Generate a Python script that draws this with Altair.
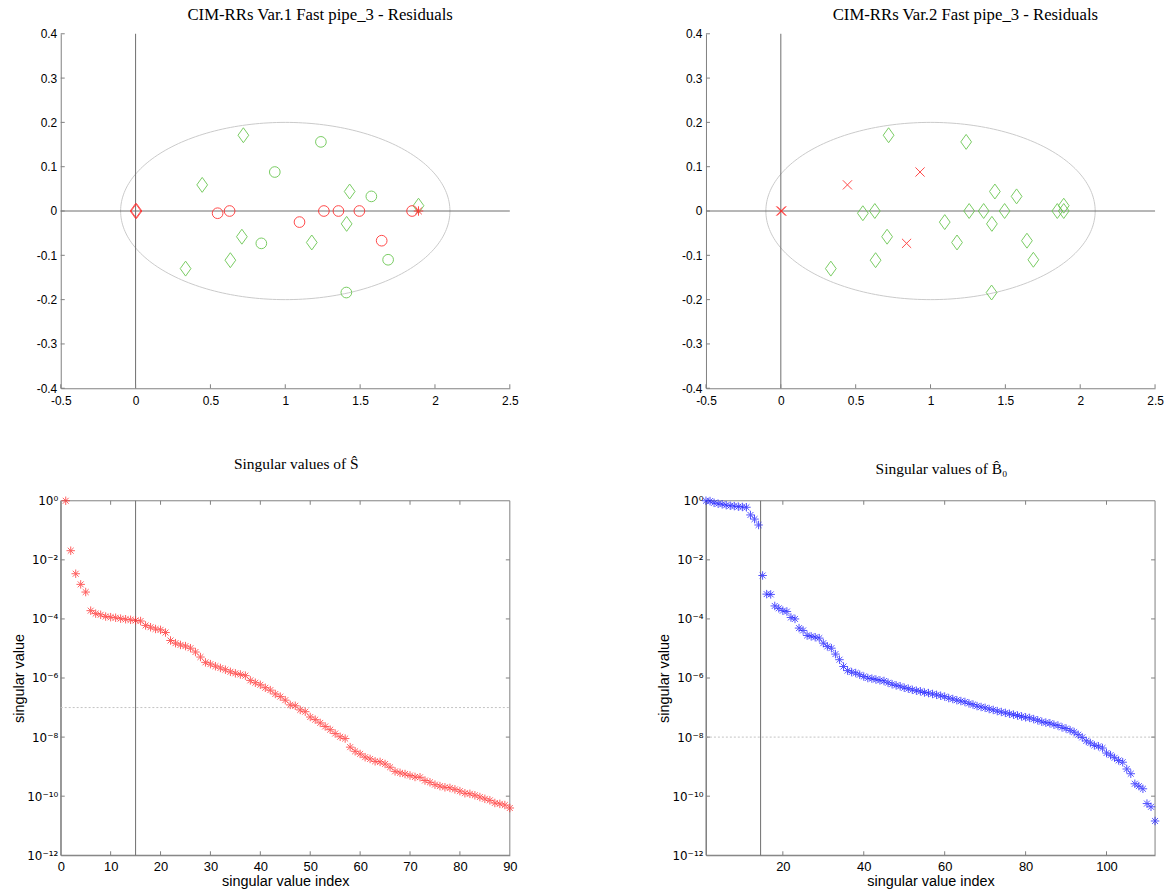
import altair as alt
import numpy as np
import pandas as pd

# ---------------------------------------------------------------- data
# residual points (shared by both residual panels)
res_x = [0.0, 0.006, 0.72, 0.445, 1.43, 1.89, 1.41, 0.71, 1.177, 0.633, 0.334,
         1.238, 0.93, 1.575, 0.84, 1.687, 1.408,
         0.548, 0.628, 1.095, 1.258, 1.355, 1.495, 1.644, 1.847, 1.89]
res_y = [0.0, 0.0, 0.171, 0.059, 0.044, 0.012, -0.029, -0.058, -0.071, -0.111, -0.13,
         0.156, 0.088, 0.033, -0.073, -0.110, -0.184,
         -0.005, 0.0, -0.025, 0.0, 0.0, 0.0, -0.067, 0.0, 0.0]
marker_var1 = (["red diamond"] * 2 + ["green diamond"] * 9 + ["green circle"] * 6
               + ["red circle"] * 8 + ["red star"])
marker_var2 = ["red cross", "red cross", "green diamond", "red cross",
               "green diamond", "green diamond", "green diamond", "green diamond",
               "green diamond", "green diamond", "green diamond",
               "green diamond", "red cross", "green diamond", "red cross",
               "green diamond", "green diamond"] + ["green diamond"] * 9

# confidence ellipse around the residual cloud
ell_cx, ell_cy, ell_a, ell_b = 1.0, 0.0, 1.1, 0.2

# log10 of the singular values of S-hat (index 1..90)
sv_s_log10 = [0.0, -1.69, -2.47, -2.83, -3.09, -3.72,
              -3.82, -3.86, -3.92, -3.94, -3.96, -3.99, -4.01, -4.03, -4.05, -4.07,
              -4.22, -4.28, -4.34, -4.37, -4.46,
              -4.73, -4.82, -4.88, -4.92, -4.99,
              -5.12, -5.29, -5.47, -5.53, -5.60, -5.66, -5.72, -5.79, -5.84, -5.88, -5.92,
              -6.08, -6.16, -6.23, -6.33, -6.41, -6.54, -6.63, -6.75, -6.91, -6.94,
              -7.08, -7.14, -7.32, -7.41, -7.52, -7.64, -7.75, -7.88, -7.99, -8.05,
              -8.34, -8.48, -8.57, -8.68, -8.74, -8.82, -8.84, -8.91, -9.02, -9.16,
              -9.21, -9.25, -9.30, -9.35, -9.36, -9.47, -9.53, -9.61, -9.66, -9.70,
              -9.72, -9.77, -9.83, -9.90, -9.92, -9.97, -10.03, -10.09, -10.14,
              -10.23, -10.26, -10.30, -10.40]

# log10 of the singular values of B0-hat (index 1..112)
sv_b_log10 = [0.0, -0.01, -0.07, -0.10, -0.12, -0.15, -0.17, -0.18, -0.20, -0.21, -0.22,
              -0.48, -0.62, -0.82, -2.53,
              -3.16, -3.17, -3.56, -3.64, -3.72, -3.75, -3.95, -4.00, -4.31, -4.39,
              -4.56, -4.59, -4.62, -4.65, -4.82, -4.93, -4.99, -5.19, -5.38, -5.61,
              -5.75, -5.80, -5.83, -5.89, -5.95, -6.00, -6.02, -6.05, -6.08,
              -6.10, -6.16, -6.21, -6.25, -6.28, -6.33, -6.36, -6.40, -6.43, -6.45,
              -6.49, -6.51, -6.54, -6.57, -6.60, -6.63, -6.68, -6.71, -6.75, -6.78,
              -6.81, -6.86, -6.90, -6.95, -6.98, -7.01, -7.05, -7.08, -7.12, -7.15,
              -7.18, -7.21, -7.24, -7.27, -7.30, -7.33, -7.35, -7.39, -7.43, -7.48,
              -7.51, -7.53, -7.58, -7.61, -7.67, -7.71, -7.77, -7.83, -7.92,
              -8.01, -8.13, -8.20, -8.28, -8.31, -8.37, -8.54, -8.61, -8.70, -8.79,
              -8.85, -9.08, -9.24, -9.58, -9.66, -9.75, -10.25, -10.36, -10.84]

rank_line_s, rank_line_b = 15, 14.5
threshold_s, threshold_b = 1e-7, 1e-8

res_x_ticks = [-0.5, 0, 0.5, 1, 1.5, 2, 2.5]
res_y_ticks = [-0.4, -0.3, -0.2, -0.1, 0, 0.1, 0.2, 0.3, 0.4]
log_ticks = [1, 1e-2, 1e-4, 1e-6, 1e-8, 1e-10, 1e-12]
idx_ticks_s = [0, 10, 20, 30, 40, 50, 60, 70, 80, 90]
idx_ticks_b = [20, 40, 60, 80, 100]

# ---------------------------------------------------------------- style
W, H = 451, 356
SANS = "Liberation Sans"
SUP_SANS = "DejaVu Sans"
SERIF = "Liberation Serif"
AXIS_GRAY = "#808080"
LINE_GRAY = "#6e6e6e"
TICK_LEN = 4

DIAMOND = "M0,-1L0.72,0L0,1L-0.72,0Z"
CROSS = "M-1,-1L1,1M-1,1L1,-1"
STAR = "M-1,0L1,0M0,-1L0,1M-0.7,-0.7L0.7,0.7M-0.7,0.7L0.7,-0.7"
GREEN = "#62c448"
RED = "#ff2a2a"
BLUE = "#1a1aff"

marker_styles = {
    "green diamond": (DIAMOND, 225, GREEN),
    "green circle": ("circle", 115, GREEN),
    "red diamond": (DIAMOND, 225, RED),
    "red circle": ("circle", 115, RED),
    "red star": (STAR, 90, RED),
    "red cross": (CROSS, 85, RED),
}

log_label = ("'10' + replace(replace(replace(replace(replace(replace(replace("
             "'' + round(log(datum.value) / LN10), '-', '⁻'), '0', '⁰'), '1', '¹'),"
             " '2', '²'), '4', '⁴'), '6', '⁶'), '8', '⁸')")


def inward_ticks(values, channel, scale, axis, sides):
    """Short tick marks drawn from the frame towards the inside of the plot."""
    df = pd.DataFrame({"t": values})
    layers = []
    for side in sides:
        if channel == "x":
            y0 = H if side == "bottom" else 0
            y1 = H - TICK_LEN if side == "bottom" else TICK_LEN
            enc = dict(x=alt.X("t:Q", scale=scale, axis=axis),
                       y=alt.value(y0), y2=alt.value(y1))
        else:
            x0 = 0 if side == "left" else W
            x1 = TICK_LEN if side == "left" else W - TICK_LEN
            enc = dict(y=alt.Y("t:Q", scale=scale, axis=axis),
                       x=alt.value(x0), x2=alt.value(x1))
        layers.append(alt.Chart(df).mark_rule(color=AXIS_GRAY, strokeWidth=1).encode(**enc))
    return layers


def residual_panel(markers, title):
    xs = alt.Scale(domain=[-0.5, 2.5], nice=False, zero=False)
    ys = alt.Scale(domain=[-0.4, 0.4], nice=False, zero=False)
    xaxis = alt.Axis(values=res_x_ticks, labelExpr="'' + datum.value", title=None,
                     grid=False, ticks=False, domainColor=AXIS_GRAY,
                     labelFont=SANS, labelFontSize=12, labelColor="black", labelPadding=7,
                     labelFlush=False)
    yaxis = alt.Axis(values=res_y_ticks, labelExpr="'' + datum.value", title=None,
                     grid=False, ticks=False, domainColor=AXIS_GRAY,
                     labelFont=SANS, labelFontSize=12, labelColor="black", labelPadding=4,
                     labelFlush=False)

    t = np.linspace(0, 2 * np.pi, 241)
    ell = pd.DataFrame({"ex": ell_cx + ell_a * np.cos(t),
                        "ey": ell_cy + ell_b * np.sin(t), "k": np.arange(t.size)})
    ellipse = alt.Chart(ell).mark_line(color="#cacaca", strokeWidth=1).encode(
        x=alt.X("ex:Q", scale=xs, axis=xaxis),
        y=alt.Y("ey:Q", scale=ys, axis=yaxis),
        order="k:Q")

    zero = pd.DataFrame({"z": [0.0]})
    hline = alt.Chart(zero).mark_rule(color=LINE_GRAY, strokeWidth=1).encode(
        y=alt.Y("z:Q", scale=ys, axis=yaxis), x=alt.value(0), x2=alt.value(W))
    vline = alt.Chart(zero).mark_rule(color=LINE_GRAY, strokeWidth=1).encode(
        x=alt.X("z:Q", scale=xs, axis=xaxis), y=alt.value(0), y2=alt.value(H))

    pts = pd.DataFrame({"x": res_x, "y": res_y, "m": markers})
    point_layers = []
    for name, (shape, size, color) in marker_styles.items():
        if name not in markers:
            continue
        point_layers.append(
            alt.Chart(pts).transform_filter(alt.datum.m == name).mark_point(
                shape=shape, size=size, color=color, filled=False,
                strokeWidth=1, opacity=0.85).encode(
                x=alt.X("x:Q", scale=xs, axis=xaxis),
                y=alt.Y("y:Q", scale=ys, axis=yaxis)))

    ticks = (inward_ticks(res_x_ticks, "x", xs, xaxis, ["bottom"])
             + inward_ticks(res_y_ticks, "y", ys, yaxis, ["left"]))
    return alt.layer(ellipse, hline, vline, *ticks, *point_layers).properties(
        width=W, height=H,
        title=alt.TitleParams(title, font=SERIF, fontSize=16.8, fontWeight="normal",
                              color="black", offset=4, dx=35))


def singular_panel(logs, color, domain, idx_ticks, rank_line, threshold, title, offset):
    xs = alt.Scale(domain=domain, nice=False, zero=False)
    ys = alt.Scale(type="log", domain=[1e-12, 1], nice=False)
    df = pd.DataFrame({"i": np.arange(1, len(logs) + 1),
                       "s": [10.0 ** v for v in logs]})
    xaxis = alt.Axis(values=idx_ticks, title="singular value index", grid=False,
                     ticks=False, domainColor=AXIS_GRAY, labelFont=SANS,
                     labelFontSize=13, labelColor="black", labelPadding=5,
                     labelFlush=False, titleFont=SANS, titleFontSize=14.5,
                     titleFontWeight="normal", titleColor="black", titlePadding=1)
    yaxis = alt.Axis(values=log_ticks, labelExpr=log_label, title="singular value",
                     grid=False, ticks=False, domainColor=AXIS_GRAY, labelFont=SUP_SANS,
                     labelFontSize=12, labelColor="black", labelPadding=3,
                     labelFlush=False, titleFont=SANS, titleFontSize=14.5,
                     titleFontWeight="normal", titleColor="black", titlePadding=0)

    frame = alt.Chart(pd.DataFrame({"a": [0]})).mark_rect(
        filled=False, stroke=AXIS_GRAY, strokeWidth=1).encode(
        x=alt.value(0), x2=alt.value(W), y=alt.value(0), y2=alt.value(H))
    thr = alt.Chart(pd.DataFrame({"v": [threshold]})).mark_rule(
        color="#c4c4c4", strokeWidth=1, strokeDash=[2, 2]).encode(
        y=alt.Y("v:Q", scale=ys, axis=yaxis), x=alt.value(0), x2=alt.value(W))
    rank = alt.Chart(pd.DataFrame({"r": [rank_line]})).mark_rule(
        color=LINE_GRAY, strokeWidth=1).encode(
        x=alt.X("r:Q", scale=xs, axis=xaxis), y=alt.value(0), y2=alt.value(H))
    pts = alt.Chart(df).mark_point(shape=STAR, size=72, color=color, filled=False,
                                   strokeWidth=1, opacity=0.75).encode(
        x=alt.X("i:Q", scale=xs, axis=xaxis),
        y=alt.Y("s:Q", scale=ys, axis=yaxis))
    ticks = (inward_ticks([v for v in idx_ticks if domain[0] < v < domain[1]], "x", xs,
                          xaxis, ["bottom", "top"])
             + inward_ticks(log_ticks[1:-1], "y", ys, yaxis, ["left", "right"]))
    return alt.layer(frame, thr, rank, *ticks, pts).properties(
        width=W, height=H,
        title=alt.TitleParams(title, font=SERIF, fontSize=15.5, fontWeight="normal",
                              color="black", offset=offset, dx=11))


chart = alt.concat(
    residual_panel(marker_var1, "CIM-RRs Var.1 Fast pipe_3 - Residuals"),
    residual_panel(marker_var2, "CIM-RRs Var.2 Fast pipe_3 - Residuals"),
    singular_panel(sv_s_log10, RED, [0, 90], idx_ticks_s, rank_line_s, threshold_s,
                   "Singular values of Ŝ", 22),
    singular_panel(sv_b_log10, BLUE, [1, 112], idx_ticks_b, rank_line_b, threshold_b,
                   "Singular values of B̂₀", 17),
    columns=2, spacing=alt.RowColnumber(row=51, column=138),
).configure_view(stroke=None).properties(
    background="white", padding={"left": 11, "top": 5, "right": 5, "bottom": 5})

chart.save("out.html", embed_options={"renderer": "svg", "actions": False})
